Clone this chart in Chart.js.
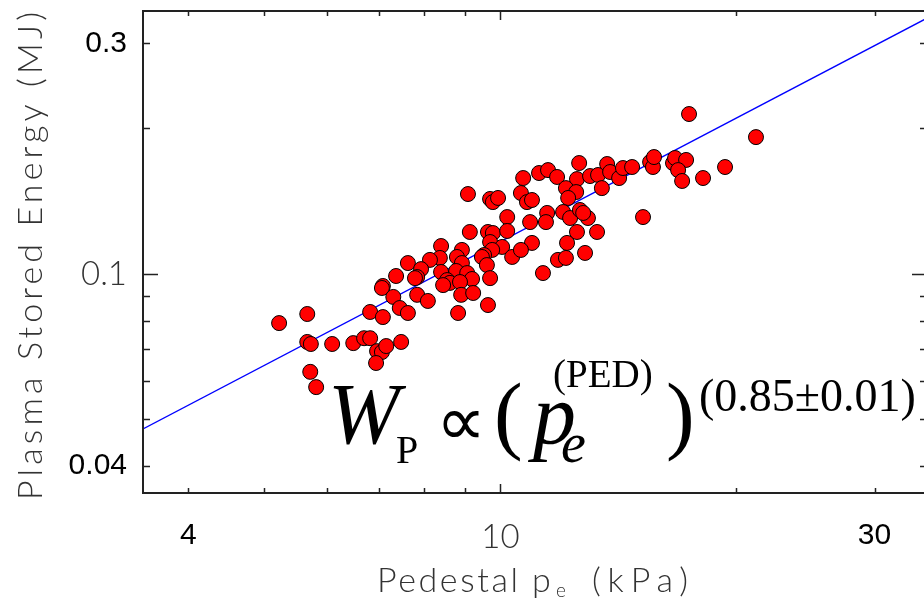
<!DOCTYPE html>
<html>
<head>
<meta charset="utf-8">
<title>Plasma stored energy vs pedestal pressure</title>
<script src="https://cdn.jsdelivr.net/npm/chart.js@4.4.0/dist/chart.umd.min.js"></script>
<style>
  html, body { margin: 0; padding: 0; background: #fff; }
  #wrap { position: relative; width: 924px; height: 603px; overflow: hidden; }
  canvas { display: block; }
</style>
</head>
<body>
<div id="wrap"><canvas id="chart" width="930" height="603" style="width:930px;height:603px"></canvas></div>
<script>
// Pedestal electron pressure (kPa) for each discharge
const pedestalPressure = [
  5.22, 5.67, 5.67, 5.73, 6.10, 6.49, 6.70, 6.82, 6.96, 7.06, 7.15, 6.94, 7.47, 5.72, 5.82,
  9.09, 9.70, 9.78, 9.93, 10.20, 9.14, 9.64, 9.78, 10.20, 9.70, 10.05, 9.76, 9.53, 9.47, 9.61,
  10.35, 8.40, 8.93, 8.80, 8.37, 8.13, 8.93, 8.78, 8.40, 9.07, 9.20, 8.55, 8.62, 8.45, 8.88,
  8.91, 9.23, 9.70, 9.64, 8.83, 7.62, 7.92, 7.83, 7.78, 7.36, 7.08, 7.06, 7.30, 7.83, 8.08,
  7.44, 7.62, 6.82, 7.08,
  10.69, 11.20, 11.50, 11.81, 12.60, 12.52, 12.12, 12.49, 12.20, 13.01, 13.32, 13.68, 13.80,
  14.17, 14.33, 14.72, 13.47, 15.52, 15.65, 10.62, 10.81, 10.97, 10.91, 11.47, 11.43, 12.02,
  12.27, 12.63, 12.93, 12.75, 12.52, 13.28, 12.16, 10.97, 10.62, 12.82, 11.84, 12.12, 11.33,
  15.20,
  17.40, 21.18, 15.70, 16.60, 16.70, 17.25, 16.85, 17.05, 18.13, 19.34
];
// Plasma stored energy (MJ), same order
const storedEnergy = [
  0.0791, 0.0826, 0.0723, 0.0716, 0.0716, 0.0719, 0.0736, 0.0736, 0.0692, 0.0689, 0.0709, 0.0654, 0.0723, 0.0627, 0.0583,
  0.1463, 0.1429, 0.1408, 0.1436, 0.1311, 0.1221, 0.1221, 0.1215, 0.1227, 0.1164, 0.1137, 0.1121, 0.1094, 0.1084, 0.1043,
  0.1084, 0.1142, 0.1121, 0.1084, 0.1079, 0.1069, 0.1053, 0.1014, 0.1009, 0.1004, 0.0976, 0.0971, 0.0958, 0.0948, 0.0962,
  0.0905, 0.0913, 0.0980, 0.0862, 0.0830, 0.1053, 0.1023, 0.0985, 0.0980, 0.0990, 0.0944, 0.0935, 0.0896, 0.0905, 0.0879,
  0.0850, 0.0830, 0.0834, 0.0814,
  0.1579, 0.1617, 0.1640, 0.1587, 0.1696, 0.1571, 0.1505, 0.1477, 0.1436, 0.1594, 0.1602, 0.1688, 0.1625,
  0.1579, 0.1656, 0.1664, 0.1505, 0.1704, 0.1664, 0.1470, 0.1408, 0.1422, 0.1280, 0.1337, 0.1280, 0.1343,
  0.1305, 0.1356, 0.1305, 0.1337, 0.1221, 0.1221, 0.1159, 0.1159, 0.1121, 0.1105, 0.1069, 0.1079, 0.1004,
  0.1311,
  0.2142, 0.1919, 0.1745, 0.1696, 0.1737, 0.1721, 0.1640, 0.1557, 0.1579, 0.1664
];

// Power-law fit W_P = C * p^alpha
const fitExponent = 0.85;
const fitCoefficient = 0.01647;
const fitPressure = [3.5, 35];

// Axis ranges and ticks
const xRange = [3.5, 35];
const yRange = [0.0352, 0.35];
const xTickValues = [4, 5, 6, 7, 8, 9, 10, 20, 30];
const xTickLabels = ['4', '', '', '', '', '', '10', '', '30'];
const yTickValues = [0.04, 0.05, 0.06, 0.07, 0.08, 0.09, 0.1, 0.2, 0.3];
const yTickLabels = ['0.04', '', '', '', '', '', '0.1', '', '0.3'];
const xMajor = 10;
const yMajor = 0.1;

const xTitle = ['Pedestal', 'p', 'e', '(kPa)'];
const yTitle = 'Plasma Stored Energy (MJ)';

const thinFont = { family: 'Lato', weight: '300', size: 33 };
const plainFont = { family: '"Liberation Sans", Arial', weight: 'normal', size: 30 };

const scatterData = pedestalPressure.map((p, i) => ({ x: p, y: storedEnergy[i] }));
const fitData = fitPressure.map(p => ({ x: p, y: fitCoefficient * Math.pow(p, fitExponent) }));

function isMajor(ctx, major) {
  const v = ctx.tick ? ctx.tick.value : null;
  return v !== null && Math.abs(v - major) < 1e-9;
}

function drawSpaced(ctx, text, x, y, width) {
  ctx.letterSpacing = '0px';
  const w0 = ctx.measureText(text).width;
  const n = text.length;
  const s = n > 1 ? (width - w0) / (n - 1) : 0;
  ctx.letterSpacing = s + 'px';
  ctx.fillText(text, x, y);
  ctx.letterSpacing = '0px';
}

const framePlugin = {
  id: 'frame',
  afterDatasetsDraw(chart) {
    const { ctx, chartArea: a, scales: { x, y } } = chart;
    ctx.save();
    ctx.strokeStyle = '#222';
    ctx.lineWidth = 2;
    ctx.strokeRect(a.left, a.top, a.right - a.left, a.bottom - a.top);

    // inward tick marks on all four sides
    ctx.lineWidth = 1.5;
    ctx.beginPath();
    x.ticks.forEach(t => {
      const px = Math.round(x.getPixelForValue(t.value)) + 0.5;
      const len = Math.abs(t.value - xMajor) < 1e-9 ? 9 : 5;
      ctx.moveTo(px, a.bottom); ctx.lineTo(px, a.bottom - len);
      ctx.moveTo(px, a.top); ctx.lineTo(px, a.top + len);
    });
    y.ticks.forEach(t => {
      const py = Math.round(y.getPixelForValue(t.value)) + 0.5;
      const len = Math.abs(t.value - yMajor) < 1e-9 ? 15 : 7;
      ctx.moveTo(a.left, py); ctx.lineTo(a.left + len, py);
      ctx.moveTo(a.right, py); ctx.lineTo(a.right - len, py);
    });
    ctx.stroke();
    ctx.restore();
  },
  afterDraw(chart) {
    const { ctx } = chart;
    ctx.save();
    ctx.fillStyle = '#333';
    ctx.textAlign = 'left';
    ctx.textBaseline = 'alphabetic';

    // x-axis title with subscript e
    ctx.font = '300 34px Lato';
    drawSpaced(ctx, xTitle[0], 377, 592, 141);
    ctx.fillText(xTitle[1], 532, 592);
    ctx.font = '300 19px Lato';
    ctx.fillText(xTitle[2], 556, 597);
    ctx.font = '300 34px Lato';
    drawSpaced(ctx, xTitle[3], 592, 592, 96);

    // y-axis title, reading upward
    ctx.save();
    ctx.translate(42, 500);
    ctx.rotate(-Math.PI / 2);
    ctx.font = '300 34px Lato';
    drawSpaced(ctx, yTitle, 0, 0, 488);
    ctx.restore();

    // scaling law annotation
    ctx.fillStyle = '#000';
    const serif = '"Liberation Serif", "Times New Roman", serif';
    ctx.font = 'italic 86px ' + serif;
    ctx.fillText('W', 328, 443);
    ctx.font = '40px ' + serif;
    ctx.fillText('P', 396, 463);
    ctx.font = '70px ' + serif;
    ctx.fillText('\u221D', 436, 445);
    ctx.font = '86px ' + serif;
    ctx.fillText('(', 494, 443);
    ctx.font = 'italic 86px ' + serif;
    ctx.fillText('p', 533, 443);
    ctx.font = 'italic 56px ' + serif;
    ctx.fillText('e', 561, 462);
    ctx.font = '39px ' + serif;
    ctx.fillText('(PED)', 553, 387);
    ctx.font = '86px ' + serif;
    ctx.fillText(')', 666, 443);
    ctx.font = '46px ' + serif;
    ctx.fillText('(0.85\u00B10.01)', 699, 411);
    ctx.restore();
  }
};

new Chart(document.getElementById('chart'), {
  data: {
    datasets: [
      {
        type: 'scatter',
        data: scatterData,
        backgroundColor: '#ff0000',
        borderColor: '#000',
        borderWidth: 1,
        pointRadius: 7.5,
        order: 0
      },
      {
        type: 'line',
        data: fitData,
        borderColor: '#0000ff',
        borderWidth: 1.4,
        pointRadius: 0,
        fill: false,
        order: 1
      }
    ]
  },
  options: {
    responsive: false,
    devicePixelRatio: 1,
    animation: false,
    layout: { autoPadding: false, padding: { left: 0, top: 11, right: 3, bottom: 0 } },
    plugins: { legend: { display: false }, tooltip: { enabled: false } },
    scales: {
      x: {
        type: 'logarithmic',
        position: 'bottom',
        min: xRange[0],
        max: xRange[1],
        afterFit: s => { s.height = 110; s.paddingLeft = 0; s.paddingRight = 0; },
        afterBuildTicks: s => { s.ticks = xTickValues.map(v => ({ value: v })); },
        grid: { display: true, drawOnChartArea: false, drawTicks: false },
        border: { display: false },
        ticks: {
          autoSkip: false,
          maxRotation: 0,
          padding: 25,
          callback: (v, i) => xTickLabels[i],
          font: c => isMajor(c, xMajor) ? thinFont : plainFont,
          color: c => isMajor(c, xMajor) ? '#333' : '#000'
        }
      },
      y: {
        type: 'logarithmic',
        position: 'left',
        min: yRange[0],
        max: yRange[1],
        afterFit: s => { s.width = 143; s.paddingTop = 0; s.paddingBottom = 0; },
        afterBuildTicks: s => { s.ticks = yTickValues.map(v => ({ value: v })); },
        grid: { display: true, drawOnChartArea: false, drawTicks: false },
        border: { display: false },
        ticks: {
          autoSkip: false,
          padding: 16,
          callback: (v, i) => yTickLabels[i],
          font: c => isMajor(c, yMajor) ? thinFont : plainFont,
          color: c => isMajor(c, yMajor) ? '#333' : '#000'
        }
      }
    }
  },
  plugins: [framePlugin]
});
</script>
</body>
</html>
